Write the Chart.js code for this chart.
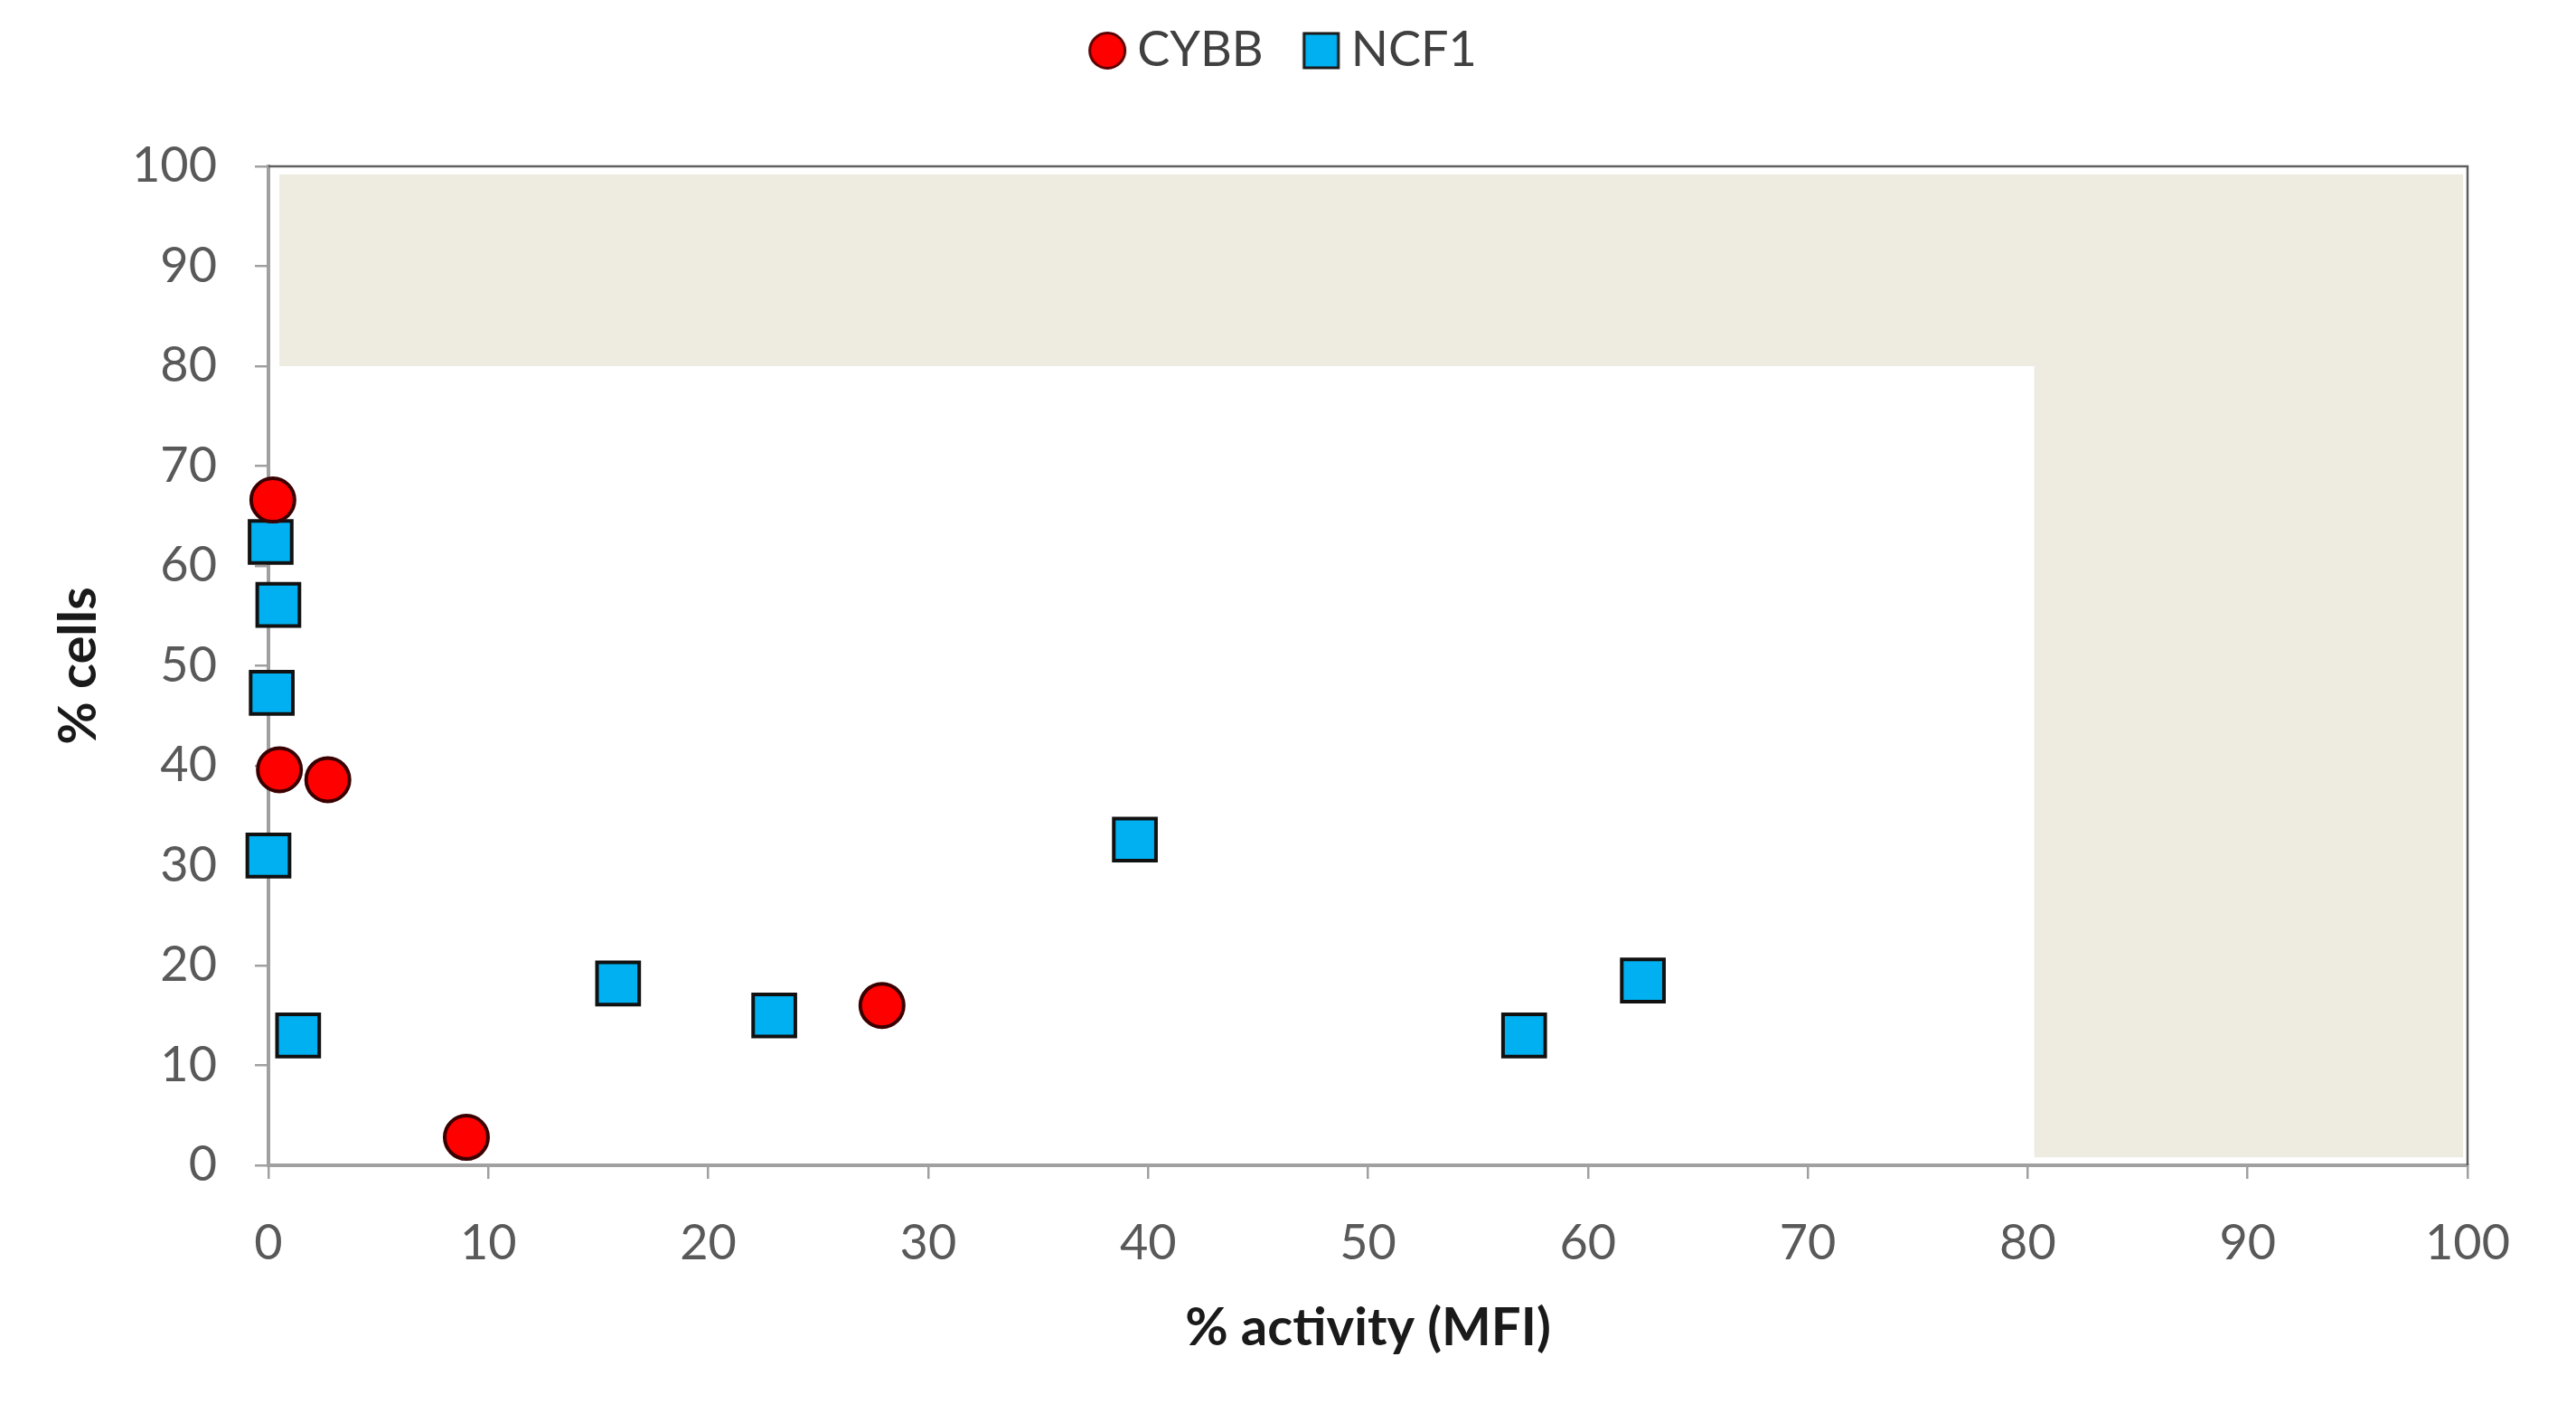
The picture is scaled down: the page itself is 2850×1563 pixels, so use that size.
<!DOCTYPE html>
<html>
<head>
<meta charset="utf-8">
<script src="https://cdn.jsdelivr.net/npm/chart.js@4"></script>
<style>
  html, body { margin: 0; padding: 0; background: #fff; }
  canvas { display: block; }
</style>
</head>
<body>
<canvas id="chart" width="2850" height="1563"></canvas>
<script>
// valores
const seriesNames = ['CYBB', 'NCF1'];
const cybbX = [0.2, 0.5, 2.7, 9.0, 27.9];
const cybbY = [66.6, 39.6, 38.6, 2.8, 16.0];
const ncf1X = [0.1, 0.45, 0.15, 0.0, 1.35, 15.9, 23.0, 39.4, 57.1, 62.5];
const ncf1Y = [62.4, 56.1, 47.3, 31.0, 13.0, 18.2, 15.0, 32.6, 13.0, 18.5];
const axisTicks = [0, 10, 20, 30, 40, 50, 60, 70, 80, 90, 100];

// zona sombreada (em L), em unidades dos eixos
const shadeX0 = [0.5, 80.3];
const shadeX1 = [99.8, 99.8];
const shadeY0 = [80, 0.8];
const shadeY1 = [99.2, 80];

const toPoints = (xs, ys) => xs.map((x, i) => ({ x: x, y: ys[i] }));

// ícones da legenda (forma encostada à direita para aproximar do texto)
function makeIcon(style, fill) {
    const c = document.createElement('canvas');
    c.width = 73; c.height = 44;
    const g = c.getContext('2d');
    g.fillStyle = fill;
    g.strokeStyle = style === 'circle' ? '#5a0000' : '#1a1a1a';
    g.lineWidth = 3;
    if (style === 'circle') {
        g.beginPath();
        g.arc(51, 22, 19.5, 0, Math.PI * 2);
        g.fill(); g.stroke();
    } else {
        g.fillRect(32, 3, 38, 38);
        g.strokeRect(32, 3, 38, 38);
    }
    return c;
}
const legendIcons = [makeIcon('circle', '#ff0000'), makeIcon('rect', '#00b0f0')];

const shadePlugin = {
    id: 'shade',
    beforeDatasetsDraw(chart) {
        const { ctx, scales: { x, y } } = chart;
        ctx.save();
        ctx.fillStyle = '#eeebe1';
        shadeX0.forEach((v, i) => {
            const l = x.getPixelForValue(v), r = x.getPixelForValue(shadeX1[i]);
            const t = y.getPixelForValue(shadeY1[i]), b = y.getPixelForValue(shadeY0[i]);
            ctx.fillRect(l, t, r - l, b - t);
        });
        ctx.restore();
    }
};

const framePlugin = {
    id: 'frame',
    beforeUpdate(chart) {
        const lg = chart.legend;
        if (lg && !lg._fitPatched) {
            const fit = lg.fit;
            lg.fit = function () { fit.call(this); this.height = 184; };
            lg._fitPatched = true;
        }
    },
    afterDraw(chart) {
        const { ctx, chartArea: a } = chart;
        ctx.save();
        ctx.strokeStyle = '#5f5f5f';
        ctx.lineWidth = 2.5;
        ctx.beginPath();
        ctx.moveTo(a.left, a.top);
        ctx.lineTo(a.right, a.top);
        ctx.lineTo(a.right, a.bottom);
        ctx.stroke();
        ctx.restore();
    }
};

const tickFont = { family: 'Lato', size: 54 };
const titleFont = { family: 'Lato', size: 58, weight: 'bold' };

new Chart(document.getElementById('chart'), {
    type: 'scatter',
    data: {
        datasets: [{
            label: seriesNames[0],
            data: toPoints(cybbX, cybbY),
            pointStyle: 'circle',
            pointRadius: 24,
            pointHoverRadius: 24,
            backgroundColor: '#ff0000',
            borderColor: '#3a0000',
            borderWidth: 4,
            clip: false,
            order: 1
        }, {
            label: seriesNames[1],
            data: toPoints(ncf1X, ncf1Y),
            pointStyle: 'rect',
            pointRadius: 33,
            pointHoverRadius: 33,
            backgroundColor: '#00b0f0',
            borderColor: '#111111',
            borderWidth: 4,
            clip: false,
            order: 2
        }]
    },
    options: {
        responsive: false,
        devicePixelRatio: 1,
        animation: false,
        layout: { padding: { top: 0, right: 26, bottom: 0, left: 0 } },
        plugins: {
            tooltip: { enabled: false },
            legend: {
                position: 'top',
                labels: {
                    usePointStyle: true,
                    boxWidth: 41,
                    boxHeight: 44,
                    padding: 29,
                    color: '#404040',
                    font: { family: 'Lato', size: 54 },
                    generateLabels(chart) {
                        const items = Chart.defaults.plugins.legend.labels.generateLabels(chart);
                        items.forEach(it => { it.pointStyle = legendIcons[it.datasetIndex]; });
                        return items;
                    }
                }
            }
        },
        scales: {
            x: {
                type: 'linear',
                min: 0, max: 100,
                afterBuildTicks(axis) { axis.ticks = axisTicks.map(v => ({ value: v })); },
                afterFit(axis) { axis.height = 274; },
                grid: { drawOnChartArea: false, drawTicks: true, tickLength: 15, tickColor: '#a0a0a0', lineWidth: 2.5 },
                border: { color: '#a0a0a0', width: 4 },
                ticks: { font: tickFont, color: '#595959', padding: 39, maxRotation: 0 },
                title: { display: true, text: '% activity (MFI)', font: titleFont, color: '#1a1a1a', padding: { top: 0, bottom: 59 } }
            },
            y: {
                type: 'linear',
                min: 0, max: 100,
                afterBuildTicks(axis) { axis.ticks = axisTicks.map(v => ({ value: v })); },
                afterFit(axis) { axis.width = 297; },
                grid: { drawOnChartArea: false, drawTicks: true, tickLength: 15, tickColor: '#a0a0a0', lineWidth: 2.5 },
                border: { color: '#a0a0a0', width: 4 },
                ticks: { font: tickFont, color: '#595959', padding: 42 },
                title: { display: true, text: '% cells', font: titleFont, color: '#1a1a1a', padding: { top: 52, bottom: 0 } }
            },
            // eixo vazio à direita só para reservar a margem (a legenda fica centrada no canvas)
            yRight: {
                type: 'linear',
                position: 'right',
                min: 0, max: 100,
                afterFit(axis) { axis.width = 94; },
                grid: { display: false, drawTicks: false },
                border: { display: false },
                ticks: { display: false }
            }
        }
    },
    plugins: [shadePlugin, framePlugin]
});
</script>
</body>
</html>
